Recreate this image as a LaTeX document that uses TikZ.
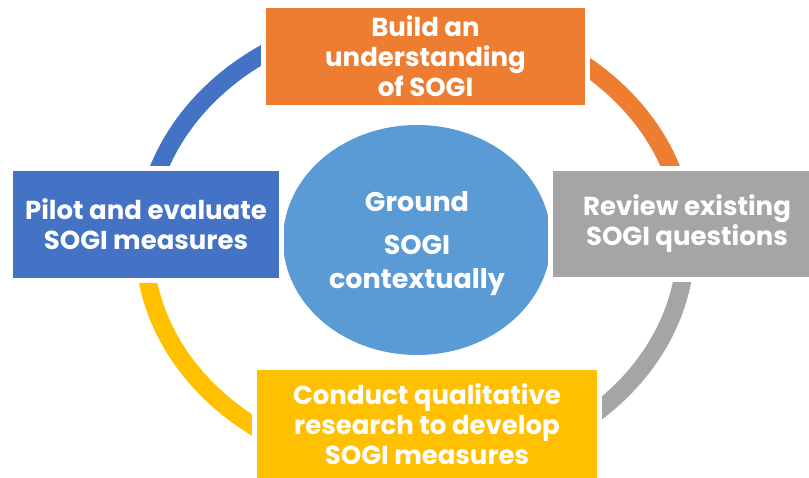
\documentclass[tikz,border=0pt]{standalone}
\usepackage{fontspec}
\setmainfont{Poppins}
\usetikzlibrary{shapes.geometric}

\definecolor{sogiorange}{HTML}{ED7D31}
\definecolor{sogiblue}{HTML}{4472C4}
\definecolor{sogigray}{HTML}{A5A5A5}
\definecolor{sogiyellow}{HTML}{FFC000}
\definecolor{sogisky}{HTML}{5B9BD5}

\begin{document}
\begin{tikzpicture}[x=1pt,y=1pt,
    ring/.style={line width=18pt},
    stage/.style={rectangle, draw=white, line width=5pt, text=white, align=center,
      font=\fontsize{26}{30}\selectfont\bfseries}]
  \useasboundingbox (0,0) rectangle (809,478);

  % the cycle ring, one quarter per colour
  \coordinate (hub) at (415,235);
  \draw[ring, sogiorange] ([xshift=271pt]hub) arc[start angle=0, end angle=90, x radius=271, y radius=228];
  \draw[ring, sogiblue] ([yshift=228pt]hub) arc[start angle=90, end angle=180, x radius=271, y radius=228];
  \draw[ring, sogiyellow] ([xshift=-271pt]hub) arc[start angle=180, end angle=270, x radius=271, y radius=228];
  \draw[ring, sogigray] ([yshift=-228pt]hub) arc[start angle=270, end angle=360, x radius=271, y radius=228];

  % centre
  \node[ellipse, fill=sogisky, text=white, align=center, minimum width=268pt, minimum height=230pt,
    font=\fontsize{27}{34}\selectfont\bfseries] (ground) at (417,238)
    {\rule{0pt}{27pt}Ground\\[9pt]SOGI\\contextually};

  % the four stages
  \node[stage, fill=sogiorange, minimum width=324pt, minimum height=102pt] (build) at (425.5,421.5)
    {Build an\\understanding\\of SOGI};
  \node[stage, fill=sogigray, minimum width=273pt, minimum height=111pt] (review) at (687,254)
    {Review existing\\SOGI questions};
  \node[stage, fill=sogiyellow, minimum width=345pt, minimum height=113pt] (conduct) at (427,54)
    {Conduct qualitative\\research to develop\\SOGI measures};
  \node[stage, fill=sogiblue, minimum width=271pt, minimum height=112pt] (pilot) at (146,253.5)
    {Pilot and evaluate\\SOGI measures};
\end{tikzpicture}
\end{document}
